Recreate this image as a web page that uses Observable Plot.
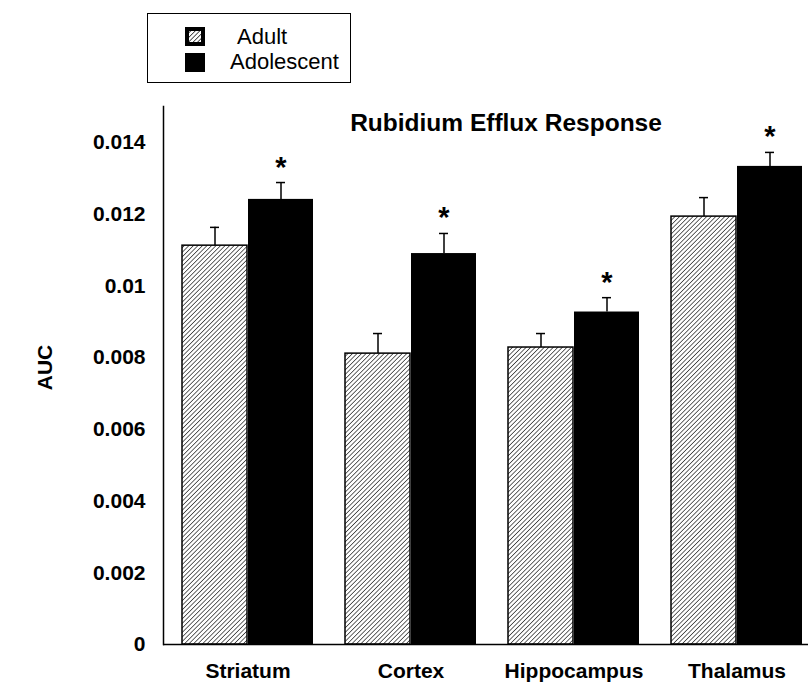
<!DOCTYPE html>
<html><head><meta charset="utf-8">
<script src="https://cdn.jsdelivr.net/npm/d3@7"></script>
<script src="https://cdn.jsdelivr.net/npm/@observablehq/plot@0.6"></script>
<style>
body{margin:0;background:#fff;font-family:"Liberation Sans",Arial,sans-serif;}
#wrap{width:808px;height:686px;position:relative;overflow:hidden;}
#legend{position:relative;width:808px;height:90px;}
#legend .box{position:absolute;left:147px;top:13px;width:202px;height:68px;border:1.5px solid #000;}
#legend .lbl{position:absolute;font-size:22px;line-height:22px;color:#000;white-space:nowrap;}
#legend svg{position:absolute;}
#chart svg{display:block;}
</style>
</head><body>
<div id="wrap">
  <div id="legend"></div>
  <div id="chart"></div>
</div>
<script>
const regions = ["Striatum", "Cortex", "Hippocampus", "Thalamus"];
const series = ["Adult", "Adolescent"];
const adult = [0.01112, 0.00811, 0.00828, 0.01193];
const adultErr = [0.00051, 0.00056, 0.00039, 0.00053];
const adolescent = [0.01241, 0.0109, 0.00927, 0.01333];
const adolescentErr = [0.00047, 0.00056, 0.0004, 0.00039];
const significant = [true, true, true, true];
const yTicks = [0, 0.002, 0.004, 0.006, 0.008, 0.01, 0.012, 0.014];
const titleText = "Rubidium Efflux Response";
const yLabel = "AUC";

const rows = regions.map((r, i) => ({
  region: r,
  adult: adult[i], adultTop: adult[i] + adultErr[i],
  adolescent: adolescent[i], adolescentTop: adolescent[i] + adolescentErr[i],
  sig: significant[i]
}));

// legend
const legend = document.getElementById("legend");
legend.innerHTML = `
<div class="box"></div>
<svg style="left:185px;top:27px" width="20" height="19">
  <defs><pattern id="lhatch" width="3.2" height="3.2" patternUnits="userSpaceOnUse" patternTransform="rotate(45)">
    <rect width="3.2" height="3.2" fill="#fff"/><line x1="0" y1="0" x2="0" y2="3.2" stroke="#000" stroke-width="1.3"/></pattern></defs>
  <rect x="0" y="0" width="20" height="19" fill="#000"/>
  <rect x="4" y="4" width="12" height="11" fill="url(#lhatch)"/>
</svg>
<div class="lbl" style="left:237px;top:26px">${series[0]}</div>
<svg style="left:185px;top:53px" width="20" height="19"><rect width="20" height="19" fill="#000"/></svg>
<div class="lbl" style="left:230px;top:51px">${series[1]}</div>`;

const hatchDefs = () => {
  const defs = d3.create("svg:defs");
  const p = defs.append("pattern").attr("id", "hatch").attr("width", 3.2).attr("height", 3.2)
    .attr("patternUnits", "userSpaceOnUse").attr("patternTransform", "rotate(45)");
  p.append("rect").attr("width", 3.2).attr("height", 3.2).attr("fill", "#fff");
  p.append("line").attr("x1", 0).attr("y1", 0).attr("x2", 0).attr("y2", 3.2)
    .attr("stroke", "#000").attr("stroke-width", 1.2);
  return defs.node();
};

const chart = Plot.plot({
  width: 808,
  height: 596,
  marginLeft: 163,
  marginRight: 0,
  marginTop: 16,
  marginBottom: 42,
  style: {fontFamily: "'Liberation Sans', Arial, sans-serif", fontSize: "21px", fontWeight: "bold", color: "#000", background: "#fff"},
  x: {domain: regions, paddingInner: 0.194, paddingOuter: 0.067, align: 0.77, label: null},
  y: {domain: [0, 0.015], label: null},
  marks: [
    hatchDefs,
    Plot.barY(rows, {x: "region", y: "adult", fill: "url(#hatch)", stroke: "#000", strokeWidth: 1.5, insetRight: 66}),
    Plot.barY(rows, {x: "region", y: "adolescent", fill: "#000", insetLeft: 66}),
    Plot.ruleX(rows, {x: "region", y1: "adult", y2: "adultTop", dx: -33, stroke: "#000", strokeWidth: 1.5}),
    Plot.tickY(rows, {x: "region", y: "adultTop", insetLeft: 28, insetRight: 94, stroke: "#000", strokeWidth: 1.5}),
    Plot.ruleX(rows, {x: "region", y1: "adolescent", y2: "adolescentTop", dx: 33, stroke: "#000", strokeWidth: 1.5}),
    Plot.tickY(rows, {x: "region", y: "adolescentTop", insetLeft: 94, insetRight: 28, stroke: "#000", strokeWidth: 1.5}),
    Plot.text(rows, {x: "region", y: "adolescentTop", text: d => d.sig ? "*" : "", dx: 33, dy: -6, lineAnchor: "bottom", fontSize: 29, fontWeight: "bold", fill: "#000"}),
    Plot.ruleY([0], {stroke: "#000", strokeWidth: 1.5}),
    Plot.frame({anchor: "left", stroke: "#000", strokeWidth: 1.5}),
    Plot.axisY({ticks: yTicks, tickSize: 0, tickPadding: 18, label: null, tickFormat: d => String(d)}),
    Plot.axisX({tickSize: 0, tickPadding: 19, label: null}),
    Plot.text([titleText], {frameAnchor: "top", lineAnchor: "top", dx: 20, dy: 7, fontSize: 24.5, fontWeight: "bold", fill: "#000"}),
    Plot.text([yLabel], {frameAnchor: "left", textAnchor: "middle", rotate: -90, dx: -118, dy: -8, fontSize: 21, fontWeight: "bold", fill: "#000"})
  ]
});
document.getElementById("chart").appendChild(chart);
</script>
</body></html>
